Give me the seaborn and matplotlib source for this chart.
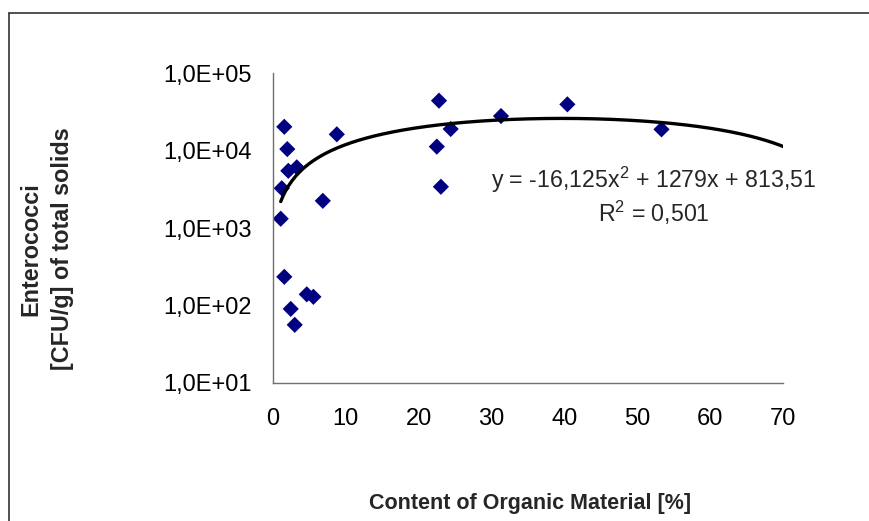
import numpy as np
import pandas as pd
import matplotlib
matplotlib.use('Agg')
import matplotlib.pyplot as plt
import seaborn as sns
from matplotlib.lines import Line2D
from matplotlib.ticker import FixedLocator, FuncFormatter, NullLocator

# Data
organic = [1.59, 2.0, 2.14, 3.3, 1.24, 1.1, 6.87, 8.79, 1.59, 2.47,
           3.02, 4.67, 5.58, 22.8, 22.5, 23.06, 24.4, 31.3, 40.4, 53.3]
entero = [20400, 10500, 5500, 6100, 3270, 1320, 2250, 16300, 234, 90,
          56, 139, 129, 44400, 11300, 3420, 19100, 28100, 39800, 18900]

# Polynomial trendline coefficients as printed on the chart
coef_a, coef_b, coef_c = -16.125, 1279, 813.51
eq_text = r"y = -16,125x$^{2}$ + 1279x + 813,51"
r2_text = r"R$^{2}$ = 0,501"

df = pd.DataFrame({'organic': organic, 'entero': entero})
trend_x = np.linspace(min(organic), 70, 300)
trend = pd.DataFrame({'x': trend_x,
                      'y': coef_a * trend_x**2 + coef_b * trend_x + coef_c})

sns.set_style("white")
plt.rcParams['font.family'] = ['Liberation Sans', 'DejaVu Sans']
plt.rcParams['mathtext.fontset'] = 'custom'
plt.rcParams['mathtext.rm'] = 'Liberation Sans'
plt.rcParams['mathtext.it'] = 'Liberation Sans'
plt.rcParams['mathtext.default'] = 'regular'

W, H = 869, 521
fig = plt.figure(figsize=(W / 100, H / 100), dpi=100)
ax = fig.add_axes([272.7 / W, 1 - 382.7 / H, (783.3 - 272.7) / W, (382.7 - 73.4) / H])

sns.scatterplot(data=df, x='organic', y='entero', marker='D', s=68,
                color='#000080', edgecolor='none', ax=ax, zorder=2)
sns.lineplot(data=trend, x='x', y='y', color='black', linewidth=2.4,
             ax=ax, zorder=3)

ax.set_yscale('log')
ax.set_xlim(0, 70)
ax.set_ylim(10, 1e5)
ax.xaxis.set_major_locator(FixedLocator(range(0, 71, 10)))
ax.yaxis.set_major_locator(FixedLocator([1e1, 1e2, 1e3, 1e4, 1e5]))
ax.yaxis.set_minor_locator(NullLocator())
ax.yaxis.set_major_formatter(FuncFormatter(lambda v, p: f"1,0E+{int(round(np.log10(v))):02d}"))

for s in ['top', 'right']:
    ax.spines[s].set_visible(False)
for s in ['left', 'bottom']:
    ax.spines[s].set_color('#707070')
    ax.spines[s].set_linewidth(1.0)
ax.tick_params(axis='both', which='major', direction='out', length=6,
               width=1.0, color='#707070', labelsize=17, labelcolor='black')
ax.tick_params(axis='x', pad=12)
ax.tick_params(axis='y', pad=9)
ax.set_xlabel('')
ax.set_ylabel('')

# Axis titles
fig.text(530 / W, 1 - 503 / H, 'Content of Organic Material [%]',
         ha='center', va='center', fontsize=15.5, fontweight='bold')
fig.text(46.5 / W, 1 - 249 / H, 'Enterococci\n[CFU/g] of total solids',
         ha='center', va='center', rotation=90, fontsize=16.8,
         fontweight='bold', multialignment='center', linespacing=1.45)

# Trendline equation
fig.text(654 / W, 1 - 188.3 / H, eq_text, ha='center', va='baseline', fontsize=16.7)
fig.text(654 / W, 1 - 221.7 / H, r2_text, ha='center', va='baseline', fontsize=16.7)

# Chart frame (left and top edges visible)
fig.add_artist(Line2D([8.5 / W, 8.5 / W], [0, 1 - 12.7 / H], transform=fig.transFigure,
                      color='#333333', linewidth=1.2))
fig.add_artist(Line2D([8.5 / W, 1], [1 - 12.7 / H, 1 - 12.7 / H], transform=fig.transFigure,
                      color='#333333', linewidth=1.2))

plt.savefig('out.png', dpi=100)
plt.close()
